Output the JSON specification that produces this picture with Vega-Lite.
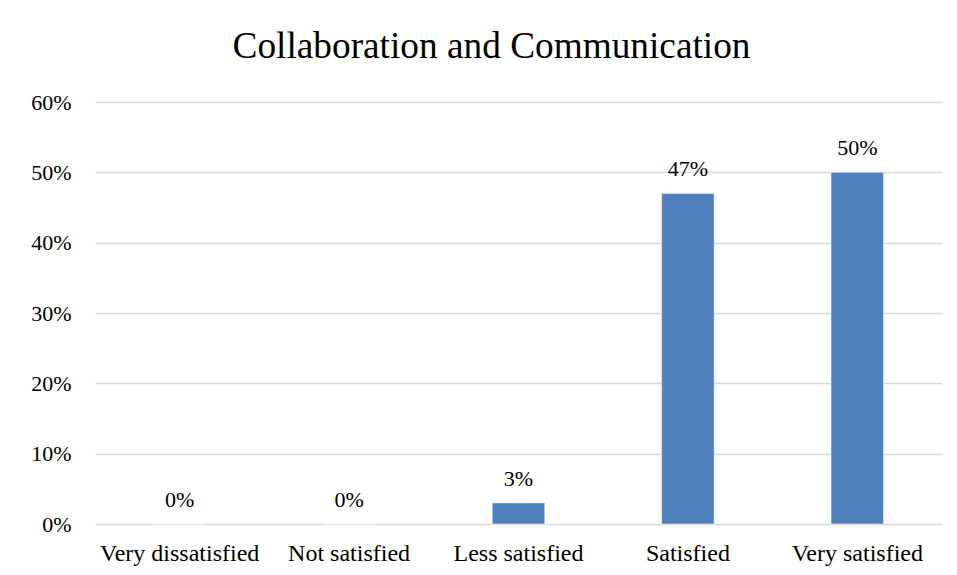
{
  "$schema": "https://vega.github.io/schema/vega-lite/v6.json",
  "width": 847,
  "height": 422,
  "autosize": {"type": "none"},
  "padding": {"left": 95, "top": 102, "right": 15, "bottom": 51},
  "background": "white",
  "title": {
    "text": "Collaboration and Communication",
    "font": "Liberation Serif",
    "fontSize": 37.3,
    "fontWeight": "normal",
    "color": "#000000",
    "anchor": "middle",
    "dx": -27,
    "offset": 25
  },
  "data": {
    "values": [
      {"category": "Very dissatisfied", "value": 0},
      {"category": "Not satisfied", "value": 0},
      {"category": "Less satisfied", "value": 0.03},
      {"category": "Satisfied", "value": 0.47},
      {"category": "Very satisfied", "value": 0.50}
    ]
  },
  "encoding": {
    "x": {
      "field": "category",
      "type": "nominal",
      "sort": null,
      "scale": {"paddingInner": 0.69, "paddingOuter": 0.345},
      "axis": {
        "title": null,
        "labelAngle": 0,
        "labelFont": "Liberation Serif",
        "labelFontSize": 24,
        "labelColor": "#000000",
        "labelBaseline": "alphabetic",
        "labelPadding": 36,
        "ticks": false,
        "domain": false,
        "grid": false
      }
    },
    "y": {
      "field": "value",
      "type": "quantitative",
      "scale": {"domain": [0, 0.6], "nice": false},
      "axis": {
        "title": null,
        "format": ".0%",
        "values": [0, 0.1, 0.2, 0.3, 0.4, 0.5, 0.6],
        "labelFont": "Liberation Serif",
        "labelFontSize": 22,
        "labelColor": "#000000",
        "labelPadding": 24,
        "ticks": false,
        "domain": false,
        "grid": true,
        "gridColor": "#D9D9D9",
        "gridWidth": 1.5
      }
    }
  },
  "layer": [
    {"mark": {"type": "bar", "color": "#4F81BD", "stroke": "#ffffff", "strokeWidth": 0.5}},
    {
      "mark": {
        "type": "text",
        "font": "Liberation Serif",
        "fontSize": 22,
        "color": "#000000",
        "baseline": "alphabetic",
        "dy": -17
      },
      "encoding": {
        "text": {"field": "value", "type": "quantitative", "format": ".0%"}
      }
    }
  ],
  "config": {
    "font": "Liberation Serif",
    "view": {"stroke": null}
  }
}
